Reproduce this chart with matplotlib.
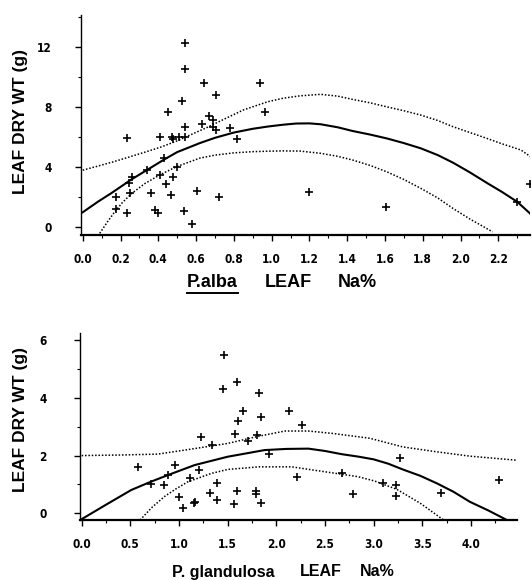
import matplotlib
matplotlib.use("Agg")
import matplotlib.pyplot as plt
from matplotlib.lines import Line2D
from matplotlib.ticker import MultipleLocator

# --- P. alba (top panel) ---
alba_x = [0.54, 0.54, 0.643, 0.527, 0.452, 0.63, 0.544, 0.237, 0.41, 0.473,
          0.48, 0.509, 0.544, 0.431, 0.338, 0.262, 0.246, 0.408, 0.50, 0.479,
          0.443, 0.467, 0.361, 0.25, 0.174, 0.174, 0.237, 0.385, 0.40, 0.607,
          0.537, 0.576, 0.719, 0.706, 0.939, 0.966, 0.671, 0.692, 0.689, 0.706,
          0.78, 0.819, 1.20, 1.604, 2.37, 2.30]
alba_y = [12.27, 10.5, 9.57, 8.41, 7.68, 6.86, 6.64, 5.93, 6.02, 6.02,
          5.9, 5.98, 5.98, 4.58, 3.81, 3.36, 2.92, 3.47, 4.03, 3.36,
          2.88, 2.15, 2.26, 2.26, 2.04, 1.2, 0.97, 1.15, 0.93, 2.43,
          1.1, 0.22, 1.99, 8.79, 9.57, 7.68, 7.4, 7.13, 6.69, 6.47,
          6.58, 5.85, 2.37, 1.37, 2.88, 1.7]

alba_fit_x = [0, 0.08, 0.15, 0.26, 0.34, 0.43, 0.5, 0.62, 0.7, 0.8, 0.9, 0.98,
              1.06, 1.13, 1.2, 1.26, 1.35, 1.43, 1.52, 1.61, 1.7, 1.79, 1.88,
              1.96, 2.05, 2.14, 2.22, 2.3, 2.37]
alba_fit_y = [1.0, 1.7, 2.26, 3.2, 3.81, 4.5, 5.0, 5.6, 5.95, 6.3, 6.55, 6.7,
              6.82, 6.9, 6.91, 6.85, 6.65, 6.4, 6.17, 5.91, 5.6, 5.25, 4.8,
              4.3, 3.65, 2.95, 2.35, 1.7, 0.9]
alba_up_x = [0, 0.08, 0.16, 0.24, 0.33, 0.42, 0.5, 0.58, 0.66, 0.75, 0.85, 0.98,
             1.06, 1.15, 1.26, 1.35, 1.43, 1.52, 1.61, 1.7, 1.79, 1.88, 1.96,
             2.05, 2.14, 2.22, 2.32, 2.37]
alba_up_y = [3.8, 4.07, 4.35, 4.65, 5.0, 5.36, 5.75, 6.2, 6.65, 7.2, 7.8, 8.35,
             8.58, 8.74, 8.84, 8.72, 8.5, 8.28, 8.01, 7.75, 7.46, 7.1, 6.69,
             6.3, 5.91, 5.55, 5.14, 4.7]
alba_lo_x = [0.09, 0.13, 0.17, 0.21, 0.26, 0.33, 0.41, 0.5, 0.62, 0.7, 0.8, 0.9,
             0.98, 1.06, 1.15, 1.26, 1.35, 1.43, 1.52, 1.61, 1.7, 1.79, 1.88,
             1.96, 2.05, 2.17]
alba_lo_y = [-0.4, 0.35, 1.04, 1.65, 2.26, 2.92, 3.5, 4.05, 4.6, 4.8, 4.95, 5.03,
             5.06, 5.08, 5.07, 4.92, 4.72, 4.47, 4.12, 3.69, 3.18, 2.59, 1.95,
             1.26, 0.55, -0.3]

# --- P. glandulosa (bottom panel) ---
gland_x = [1.459, 1.452, 1.223, 1.339, 0.579, 0.962, 0.887, 0.709, 0.846, 1.202,
           1.115, 1.394, 1.0, 1.044, 1.154, 1.16, 1.319, 1.394, 1.593, 1.822,
           1.655, 1.603, 1.843, 2.134, 2.267, 1.576, 1.706, 1.798, 1.928, 2.21,
           2.672, 2.791, 1.599, 1.568, 1.788, 1.788, 1.843, 3.271, 4.292, 3.094,
           3.23, 3.23, 3.69]
gland_y = [5.48, 4.32, 2.65, 2.36, 1.59, 1.67, 1.33, 1.01, 0.98, 1.5,
           1.23, 1.06, 0.58, 0.17, 0.35, 0.4, 0.69, 0.48, 4.55, 4.17,
           3.55, 3.2, 3.34, 3.55, 3.06, 2.74, 2.51, 2.71, 2.05, 1.27,
           1.41, 0.67, 0.78, 0.31, 0.78, 0.67, 0.37, 1.9, 1.15, 1.04,
           0.98, 0.61, 0.71]

gland_fit_x = [0, 0.25, 0.51, 0.7, 0.89, 1.16, 1.5, 1.88, 2.1, 2.33, 2.5, 2.67,
               2.85, 3.0, 3.15, 3.3, 3.48, 3.65, 3.82, 3.99, 4.18, 4.37]
gland_fit_y = [-0.2, 0.3, 0.81, 1.08, 1.33, 1.67, 1.96, 2.19, 2.23, 2.24, 2.16,
               2.05, 1.96, 1.87, 1.72, 1.52, 1.3, 1.04, 0.75, 0.4, 0.1, -0.23]
gland_up_x = [0, 0.4, 0.78, 1.06, 1.33, 1.5, 1.82, 2.09, 2.33, 2.57, 2.96, 3.3,
              3.65, 3.99, 4.47]
gland_up_y = [2.0, 2.02, 2.05, 2.19, 2.33, 2.42, 2.67, 2.85, 2.85, 2.77, 2.6,
              2.3, 2.13, 1.98, 1.84]
gland_lo_x = [0.6, 0.72, 0.85, 0.97, 1.09, 1.33, 1.5, 1.82, 2.16, 2.5, 2.84,
              3.01, 3.24, 3.48, 3.72]
gland_lo_y = [-0.23, 0.2, 0.58, 0.85, 1.09, 1.38, 1.52, 1.61, 1.61, 1.44, 1.27,
              1.12, 0.83, 0.35, -0.23]

alba_xticks = [0.0, 0.2, 0.4, 0.6, 0.8, 1.0, 1.2, 1.4, 1.6, 1.8, 2.0, 2.2]
alba_yticks = [0, 4, 8, 12]
gland_xticks = [0.0, 0.5, 1.0, 1.5, 2.0, 2.5, 3.0, 3.5, 4.0]
gland_yticks = [0, 2, 4, 6]

tick_font = dict(family="DejaVu Sans", stretch="condensed", weight="bold", size=8.5)
label_font = dict(family="Liberation Sans", weight="bold", size=12.5)


def style_axes(ax, xticks, yticks, xminor, yminor, ypad):
    for s in ("top", "right"):
        ax.spines[s].set_visible(False)
    ax.spines["left"].set_linewidth(1.0)
    ax.spines["bottom"].set_linewidth(1.6)
    ax.set_xticks(xticks)
    ax.set_xticklabels(["%.1f" % t for t in xticks], fontdict=tick_font)
    ax.set_yticks(yticks)
    ax.set_yticklabels([str(t) for t in yticks], fontdict=tick_font)
    ax.xaxis.set_minor_locator(MultipleLocator(xminor))
    ax.yaxis.set_minor_locator(MultipleLocator(yminor))
    ax.tick_params(axis="x", which="major", direction="out", length=4, width=1, pad=9)
    ax.tick_params(axis="x", which="minor", direction="out", length=2.5, width=0.8)
    ax.tick_params(axis="y", which="major", direction="out", length=4, width=1, pad=ypad)
    ax.tick_params(axis="y", which="minor", direction="out", length=2.5, width=0.8)


def draw_panel(ax, px, py, fx, fy, ux, uy, lx, ly):
    ax.plot(fx, fy, color="black", linewidth=1.5)
    ax.plot(ux, uy, color="black", linewidth=1.1, linestyle=(0, (1, 1.2)))
    ax.plot(lx, ly, color="black", linewidth=1.1, linestyle=(0, (1, 1.2)))
    ax.plot(px, py, linestyle="none", marker="+", color="black",
            markersize=6, markeredgewidth=1.2)


fig = plt.figure(figsize=(5.32, 5.80), dpi=100)

ax1 = fig.add_axes([0.1523, 0.5948, 0.844, 0.379])
draw_panel(ax1, alba_x, alba_y, alba_fit_x, alba_fit_y,
           alba_up_x, alba_up_y, alba_lo_x, alba_lo_y)
ax1.set_xlim(-0.009, 2.368)
ax1.set_ylim(-0.51, 14.1)
style_axes(ax1, alba_xticks, alba_yticks, 0.1, 2, 17)

ax2 = fig.add_axes([0.1504, 0.1034, 0.8214, 0.3224])
draw_panel(ax2, gland_x, gland_y, gland_fit_x, gland_fit_y,
           gland_up_x, gland_up_y, gland_lo_x, gland_lo_y)
ax2.set_xlim(-0.017, 4.474)
ax2.set_ylim(-0.23, 6.24)
style_axes(ax2, gland_xticks, gland_yticks, 0.25, 1, 20)

# y labels
fig.text(0.038, 0.79, "LEAF DRY WT (g)", rotation=90, ha="center", va="center", **label_font)
fig.text(0.038, 0.276, "LEAF DRY WT (g)", rotation=90, ha="center", va="center", **label_font)

# x labels
top_font = dict(label_font, size=13)
ytop = 1 - 283 / 580
t_alba = fig.text(187 / 532, ytop, "P.alba", ha="left", va="center", **top_font)
fig.text(265 / 532, ytop, "LEAF", ha="left", va="center", **top_font)
fig.text(338 / 532, ytop, "Na%", ha="left", va="center", **top_font)
bot_font = dict(label_font, size=11.5)
ybot = 1 - 572 / 580
fig.text(172 / 532, ybot, "P. glandulosa", ha="left", va="center", **bot_font)
fig.text(300 / 532, ybot, "LEAF", ha="left", va="center", **bot_font)
fig.text(360 / 532, ybot, "Na%", ha="left", va="center", **bot_font)

# underline under P.alba
fig.canvas.draw()
bb = t_alba.get_window_extent(fig.canvas.get_renderer())
inv = fig.transFigure.inverted()
(x0, y0), (x1, _) = inv.transform([(bb.x0, bb.y0), (bb.x1, bb.y1)])
fig.add_artist(Line2D([x0, x1], [y0 - 0.002, y0 - 0.002], color="black",
                      linewidth=1.4, transform=fig.transFigure))

fig.savefig("out.png", dpi=100)
